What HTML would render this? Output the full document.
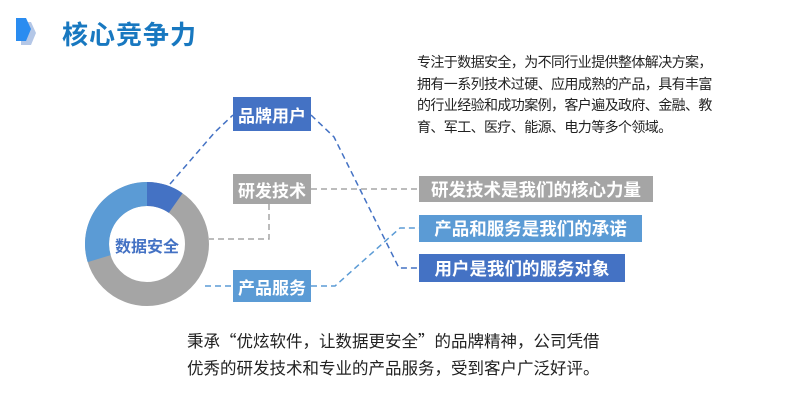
<!DOCTYPE html>
<html><head><meta charset="utf-8"><style>
html,body{margin:0;padding:0;background:#fff;}
body{width:800px;height:401px;position:relative;overflow:hidden;font-family:"Liberation Sans","Noto Sans CJK SC",sans-serif;}
.t{position:absolute;white-space:nowrap;}
.box{position:absolute;color:#fff;font-weight:bold;display:flex;align-items:center;justify-content:center;white-space:nowrap;}
</style></head><body>
<svg width="800" height="401" style="position:absolute;left:0;top:0">
  <polygon points="21,22 31,22 36,33 31,45 21,45" fill="#b4c7e7"/>
  <polygon points="16,18 26,18 31,29 26,41 16,41" fill="#2a8cf0"/>
  <g transform="translate(147,244)">
    <circle r="50" fill="none" stroke="#a5a5a5" stroke-width="24"/>
    <path d="M0,-62 A62,62 0 0 1 35.6,-50.8 L21.8,-31.1 A38,38 0 0 0 0,-38 Z" fill="#4472c4"/>
    <path d="M-59.3,18.1 A62,62 0 0 1 0,-62 L0,-38 A38,38 0 0 0 -36.3,11.1 Z" fill="#5b9bd5"/>
  </g>
  <g fill="none" stroke-width="1.5" stroke-dasharray="6,4">
    <polyline points="170,184 215,132 233,115" stroke="#4472c4"/>
    <polyline points="311,115 334,137 399,268 419,268" stroke="#4472c4"/>
    <polyline points="311,189 419,189" stroke="#a5a5a5"/>
    <polyline points="269,204 269,239 209,239" stroke="#a5a5a5"/>
    <polyline points="205,286 233,286" stroke="#5b9bd5"/>
    <polyline points="311,286 335,286 400,228 419,228" stroke="#5b9bd5"/>
  </g>
</svg>
<div class="t" style="left:62px;top:15px;font-size:26px;font-weight:bold;color:#1878c0;letter-spacing:1px;">核心竞争力</div>
<div class="t" style="left:110px;top:233px;font-size:16px;font-weight:bold;color:#4472c4;width:74px;text-align:center;">数据安全</div>
<div class="box" style="left:233px;top:97px;width:78px;height:34px;background:#4472c4;font-size:17px;">品牌用户</div>
<div class="box" style="left:233px;top:174px;width:78px;height:30px;background:#a5a5a5;font-size:17px;">研发技术</div>
<div class="box" style="left:233px;top:270px;width:78px;height:32px;background:#5b9bd5;font-size:17px;">产品服务</div>
<div class="box" style="left:419px;top:176px;width:234px;height:26px;background:#a5a5a5;font-size:17.5px;">研发技术是我们的核心力量</div>
<div class="box" style="left:419px;top:215px;width:223px;height:27px;background:#5b9bd5;font-size:17.5px;">产品和服务是我们的承诺</div>
<div class="box" style="left:419px;top:254px;width:206px;height:28px;background:#4472c4;font-size:17.5px;">用户是我们的服务对象</div>
<div class="t" style="left:417px;top:52px;font-size:14px;line-height:21.5px;color:#222;font-family:'Noto Sans CJK SC',sans-serif;letter-spacing:-0.6px;">专注于数据安全，为不同行业提供整体解决方案，<br>拥有一系列技术过硬、应用成熟的产品，具有丰富<br>的行业经验和成功案例，客户遍及政府、金融、教<br>育、军工、医疗、能源、电力等多个领域。</div>
<div class="t" style="left:187px;top:327px;font-size:16.5px;line-height:27px;color:#222;font-family:'Noto Sans CJK SC',sans-serif;">秉承“优炫软件，让数据更安全”的品牌精神，公司凭借<br>优秀的研发技术和专业的产品服务，受到客户广泛好评。</div>
</body></html>
